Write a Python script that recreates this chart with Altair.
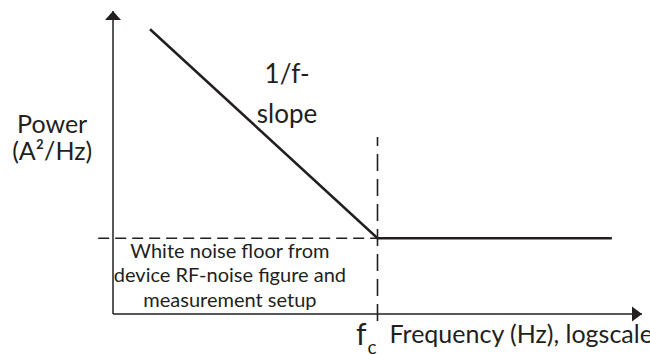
import altair as alt
import pandas as pd

# Schematic noise spectrum on log-log axes (arbitrary log units)
spectrum_logf = [0.7, 5.0, 9.43]   # start of 1/f region, corner, end of floor
spectrum_logp = [9.4, 2.5, 2.5]

corner_logf = 5.0     # f_c: the 1/f slope meets the white-noise floor
noise_floor = 2.5

axis_f_end = 10.0
axis_p_end = 10.0

floor_guide_f = [-0.28, corner_logf]
corner_guide_p = [-0.23, 5.84]

INK = "#231f20"
FONT = "Lato"

xs = alt.Scale(domain=[0, axis_f_end], nice=False, zero=False)
ys = alt.Scale(domain=[0, axis_p_end], nice=False, zero=False)


def X(field):
    return alt.X(field, type="quantitative", scale=xs, axis=None)


def Y(field):
    return alt.Y(field, type="quantitative", scale=ys, axis=None)


# Axis lines
axes_df = pd.DataFrame({"x": [0, 0], "y": [0, 0], "x2": [axis_f_end, 0], "y2": [0, axis_p_end]})
axis_lines = alt.Chart(axes_df).mark_rule(color=INK, strokeWidth=1.5).encode(
    x=X("x"), y=Y("y"), x2="x2", y2="y2"
)

# Arrowheads at the axis ends
x_head = alt.Chart(pd.DataFrame({"x": [axis_f_end], "y": [0]})).mark_point(
    shape="M0,0L-1.25,-0.94L-1.25,0.94Z", size=256, filled=True, color=INK, opacity=1, strokeWidth=0
).encode(x=X("x"), y=Y("y"))
y_head = alt.Chart(pd.DataFrame({"x": [0], "y": [axis_p_end]})).mark_point(
    shape="M0,0L1,1.125L-1,1.125Z", size=256, filled=True, color=INK, opacity=1, strokeWidth=0
).encode(x=X("x"), y=Y("y"))

# Dashed guides: white-noise floor and corner frequency
floor_guide = alt.Chart(
    pd.DataFrame({"x": [floor_guide_f[0]], "x2": [floor_guide_f[1]], "y": [noise_floor]})
).mark_rule(color=INK, strokeWidth=1.6, strokeDash=[11, 6]).encode(x=X("x"), x2="x2", y=Y("y"))
corner_guide = alt.Chart(
    pd.DataFrame({"x": [corner_logf], "y": [corner_guide_p[0]], "y2": [corner_guide_p[1]]})
).mark_rule(color=INK, strokeWidth=1.6, strokeDash=[17, 8]).encode(x=X("x"), y=Y("y"), y2="y2")

# Spectrum: 1/f slope followed by the flat floor
spec_df = pd.DataFrame({"f": spectrum_logf, "p": spectrum_logp, "i": range(len(spectrum_logf))})
spectrum = alt.Chart(spec_df).mark_line(color=INK, strokeWidth=2.6).encode(
    x=X("f"), y=Y("p"), order="i:O"
)


def label(x, y, text, size, align="center", dx=0, dy=0, line_height=None):
    kw = dict(text=text, fontSize=size, font=FONT, color=INK, align=align,
              baseline="alphabetic", dx=dx, dy=dy)
    if line_height is not None:
        kw["lineHeight"] = line_height
    return alt.Chart(pd.DataFrame({"x": [x], "y": [y]})).mark_text(**kw).encode(x=X("x"), y=Y("y"))


slope_label = label(3.29, 7.62, ["1/f-", "slope"], 26, line_height=40)
power_label = label(-1.15, 5.97, ["Power", "(A²/Hz)"], 25, line_height=27)
floor_label = label(2.21, 1.85, ["White noise floor from", "device RF-noise figure and",
                                 "measurement setup"], 20, line_height=24.5)
freq_label = label(corner_logf, 0, "Frequency (Hz), logscale", 25, align="left", dx=12, dy=29)
fc_f = label(corner_logf, 0, "f", 30, align="right", dx=-11, dy=31)
fc_c = label(corner_logf, 0, "c", 19, align="left", dx=-10, dy=40)

chart = alt.layer(
    axis_lines, x_head, y_head, floor_guide, corner_guide, spectrum,
    slope_label, power_label, floor_label, freq_label, fc_f, fc_c,
).properties(
    width=529, height=303,
    padding={"left": 113, "top": 11, "right": 8, "bottom": 40},
    autosize="none",
    background="white",
).configure_view(stroke=None)

chart.save("out.html", embed_options={"renderer": "svg", "actions": False})
